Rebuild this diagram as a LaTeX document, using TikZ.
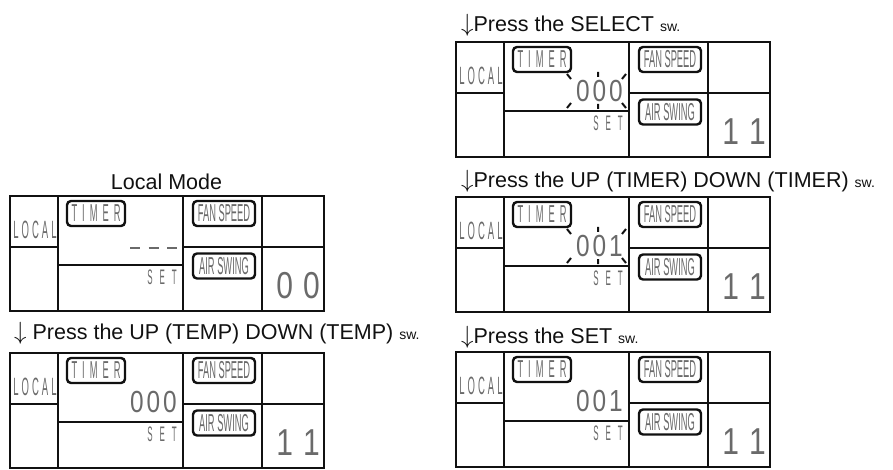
\documentclass[tikz,border=0pt]{standalone}
\usepackage{fontspec}
\setmainfont{Liberation Sans}
\newfontfamily\lcd[FakeStretch=0.38]{Liberation Sans}
\newfontfamily\lcdnum[FakeStretch=0.8]{Liberation Sans}
\definecolor{lcdgray}{HTML}{6A6A6A}
\definecolor{ink}{HTML}{111111}
\tikzset{
  frame/.style={line width=2.8pt, draw=ink},
  badge/.style={draw=ink, line width=2.4pt, rounded corners=4pt, minimum height=25pt, inner sep=0pt, text=lcdgray, font=\lcd\fontsize{24.5}{24.5}\selectfont},
  lcdtext/.style={inner sep=0pt, text=lcdgray},
  tick/.style={line width=2pt, draw=ink},
  dashseg/.style={line width=2.3pt, draw=lcdgray},
  caption/.style={inner sep=0pt, anchor=base west, font=\fontsize{21.5}{24}\selectfont, text=ink},
}
\newcommand\swtext{{\fontsize{14}{14}\selectfont sw.}}
\newcommand\darr{{\fontsize{24.5}{24.5}\selectfont$\downarrow$}}
% #1 name, #2 x, #3 y, #4 timer-display code, #5 right digits
\newcommand\lcdpanel[5]{%
\begin{scope}[shift={(#2,#3)}]
  \draw[frame] (0,0) rectangle (314,115);
  \draw[frame] (48,0) -- (48,115) (173,0) -- (173,115) (252,0) -- (252,115);
  \draw[frame] (0,51) -- (48,51) (48,69) -- (173,69) (173,51) -- (314,51);
  \node[lcdtext, font=\lcd\fontsize{25}{25}\selectfont] (#1-local) at (25,34) {L\kern3pt O\kern3pt C\kern3pt A\kern3pt L};
  \node[badge, minimum width=58pt] (#1-timer) at (86,17.5) {T\kern5pt I\kern5pt M\kern5pt E\kern5pt R};
  \node[badge, minimum width=62pt] (#1-fan) at (214,17.5) {FAN SPEED};
  \node[badge, minimum width=62pt] (#1-air) at (214,70) {AIR SWING};
  \node[lcdtext, anchor=east, font=\lcd\fontsize{21}{21}\selectfont] (#1-set) at (167,81.5) {S\kern7pt E\kern7pt T};
  #4
  \node[lcdtext, anchor=east, font=\lcdnum\fontsize{37.5}{37.5}\selectfont] (#1-num) at (310,90) {#5};
\end{scope}}
\newcommand\timerval[2]{\node[lcdtext, anchor=east, font=\lcdnum\fontsize{30.5}{30.5}\selectfont] (#1-tv) at (167,49) {#2};}
\newcommand\blinkticks{%
  \draw[tick] (111,32) -- (115,37) (142,30) -- (142,35) (170,32) -- (166,37)
              (115,61) -- (111,66) (142,62) -- (142,67) (166,61) -- (170,66);}
\begin{document}
\begin{tikzpicture}[x=1pt, y=-1pt]
  \useasboundingbox (0,0) rectangle (893,470);
  % left column
  \node[inner sep=0pt, anchor=base, font=\fontsize{21.5}{24}\selectfont, text=ink] (title) at (166.5,190) {Local Mode};
  \lcdpanel{p1}{10}{196}{\draw[dashseg] (120,52) -- (130,52) (138.5,52) -- (148.5,52) (157,52) -- (167,52);}{0\kern10pt 0}
  \node[caption] (cap2) at (14,339) {\darr\ Press the UP (TEMP) DOWN (TEMP) \swtext};
  \lcdpanel{p2}{10}{353}{\timerval{p2}{0\kern3pt 0\kern3pt 0}}{1\kern10pt 1}
  % right column
  \node[caption] (cap3) at (461,32) {\darr Press the SELECT \swtext};
  \lcdpanel{p3}{456}{42}{\timerval{p3}{0\kern3pt 0\kern3pt 0}\blinkticks}{1\kern10pt 1}
  \node[caption] (cap4) at (461,188) {\darr Press the UP (TIMER) DOWN (TIMER) \swtext};
  \lcdpanel{p4}{456}{197}{\timerval{p4}{0\kern3pt 0\kern3pt 1}\blinkticks}{1\kern10pt 1}
  \node[caption] (cap5) at (461,343) {\darr Press the SET \swtext};
  \lcdpanel{p5}{456}{352}{\timerval{p5}{0\kern3pt 0\kern3pt 1}}{1\kern10pt 1}
\end{tikzpicture}
\end{document}
